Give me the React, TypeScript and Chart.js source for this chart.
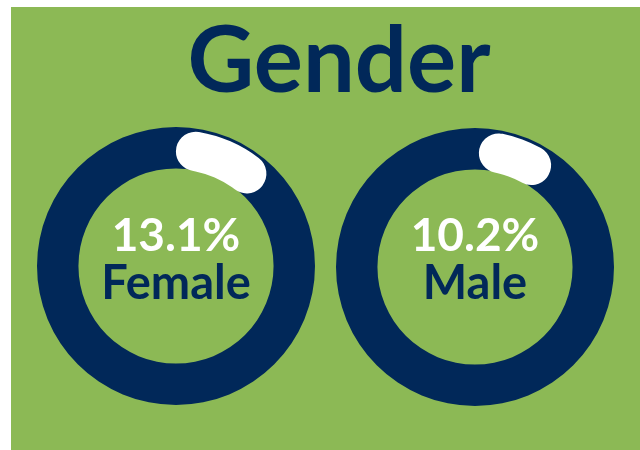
import React, { useEffect, useRef } from "react";
import { Chart, registerables } from "chart.js";

Chart.register(...registerables);

const TITLE = "Gender";
const CATEGORIES = ["Female", "Male"];
const PERCENT_VALUES = [13.1, 10.2];
const PERCENT_LABELS = ["13.1%", "10.2%"];

const GREEN = "#8cb955";
const NAVY = "#012859";

const ringPlugin = {
  id: "ringBackground",
  beforeDatasetsDraw(chart: any) {
    const meta = chart.getDatasetMeta(0);
    const arc = meta.data[0];
    if (!arc) return;
    const { x, y, innerRadius, outerRadius } = arc.getProps(["x", "y", "innerRadius", "outerRadius"], true);
    const ctx = chart.ctx;
    ctx.save();
    ctx.beginPath();
    ctx.arc(x, y, outerRadius + 3, 0, Math.PI * 2);
    ctx.arc(x, y, innerRadius + 1, 0, Math.PI * 2, true);
    ctx.closePath();
    ctx.fillStyle = NAVY;
    ctx.fill();
    ctx.restore();
  },
};

const SIZE = 292;
const PAD = 10;

function Donut({ value, rotation, left, top }: { value: number; rotation: number; left: number; top: number }) {
  const ref = useRef<HTMLCanvasElement | null>(null);
  useEffect(() => {
    if (!ref.current) return;
    const chart = new Chart(ref.current, {
      type: "doughnut",
      data: {
        labels: ["value", "rest"],
        datasets: [
          {
            data: [value, 100 - value],
            backgroundColor: ["#ffffff", "rgba(0,0,0,0)"],
            borderWidth: 0,
            borderRadius: (c: any) => (c.dataIndex === 0 ? 20 : 0),
          } as any,
        ],
      },
      options: {
        responsive: false,
        animation: false,
        rotation,
        cutout: "71%",
        layout: { padding: PAD },
        plugins: { legend: { display: false }, tooltip: { enabled: false }, title: { display: false } },
        events: [],
      },
      plugins: [ringPlugin],
    });
    return () => chart.destroy();
  }, [value, rotation]);
  return (
    <canvas
      ref={ref}
      width={SIZE}
      height={SIZE}
      style={{ position: "absolute", left, top, width: SIZE, height: SIZE }}
    />
  );
}

const font = "Lato, 'Open Sans', sans-serif";

export default function App() {
  const centers = [
    { cx: 176, cy: 266, rot: 0 },
    { cx: 475, cy: 267, rot: 2 },
  ];
  return (
    <div style={{ position: "absolute", left: 0, top: 0, width: 640, height: 450, overflow: "hidden" }}>
      <div style={{ position: "absolute", left: 11, top: 7, width: 629, height: 443, background: GREEN }} />
      <div
        style={{
          position: "absolute",
          left: 0,
          top: 7,
          width: 678,
          textAlign: "center",
          fontFamily: font,
          fontWeight: 700,
          fontSize: 92,
          lineHeight: "100px",
          color: NAVY,
        }}
      >
        {TITLE}
      </div>
      {CATEGORIES.map((cat, i) => (
        <React.Fragment key={cat}>
          <Donut
            value={PERCENT_VALUES[i]}
            rotation={centers[i].rot}
            left={centers[i].cx - SIZE / 2}
            top={centers[i].cy - SIZE / 2}
          />
          <div
            style={{
              position: "absolute",
              left: centers[i].cx - 150,
              top: 209,
              width: 300,
              textAlign: "center",
              fontFamily: font,
              fontWeight: 700,
              fontSize: 46,
              lineHeight: "50px",
              color: "#ffffff",
            }}
          >
            {PERCENT_LABELS[i]}
          </div>
          <div
            style={{
              position: "absolute",
              left: centers[i].cx - 150,
              top: 256,
              width: 300,
              textAlign: "center",
              fontFamily: font,
              fontWeight: 700,
              fontSize: 47,
              lineHeight: "50px",
              color: NAVY,
            }}
          >
            {cat}
          </div>
        </React.Fragment>
      ))}
    </div>
  );
}
